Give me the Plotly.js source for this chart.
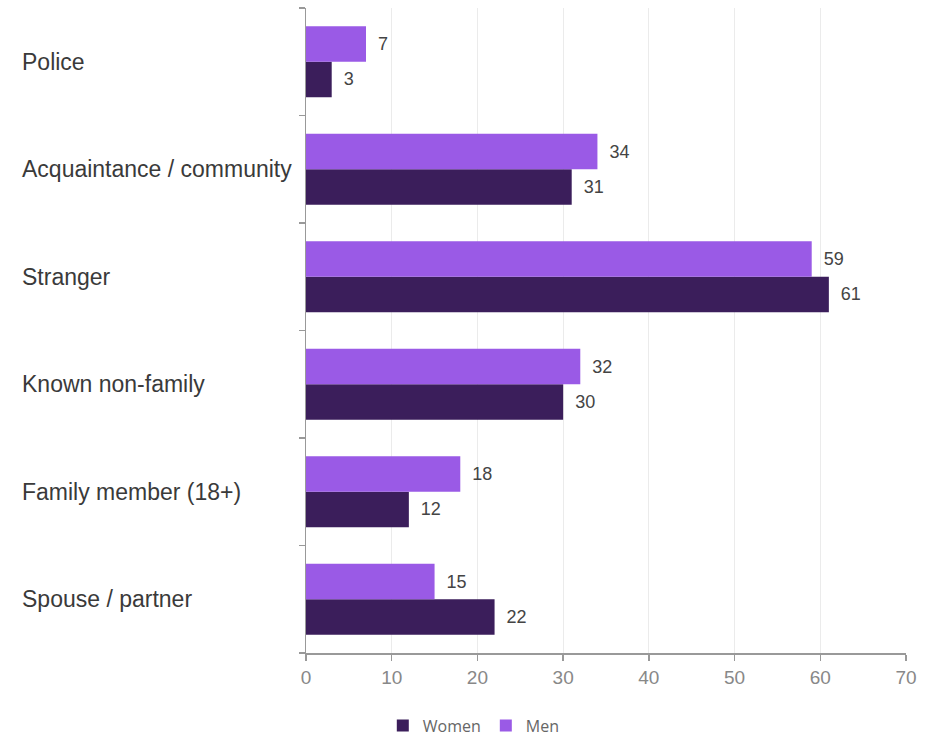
<!DOCTYPE html>
<html>
<head>
<meta charset="utf-8">
<script src="https://cdn.plot.ly/plotly-3.0.1.min.js"></script>
<style>html,body{margin:0;padding:0;background:#fff;}#chart{width:936px;height:736px;}</style>
</head>
<body>
<div id="chart"></div>
<script>
// categories listed top to bottom as displayed
const categories = ["Police", "Acquaintance / community", "Stranger", "Known non-family", "Family member (18+)", "Spouse / partner"];
const women = [3, 31, 61, 30, 12, 22];
const men = [7, 34, 59, 32, 18, 15];
const xTicks = [0, 10, 20, 30, 40, 50, 60, 70];

const labelFont = {family: "Liberation Sans, Arial, sans-serif", size: 18, color: "#444"};
const pad = "\u2002";

const traces = [
  {type: "bar", orientation: "h", name: "Women", y: categories, x: women,
   marker: {color: "#3b1e5b"}, text: women.map(v => pad + v), textposition: "outside",
   textfont: labelFont, cliponaxis: false, hoverinfo: "x+y"},
  {type: "bar", orientation: "h", name: "Men", y: categories, x: men,
   marker: {color: "#9a5ae6"}, text: men.map(v => pad + v), textposition: "outside",
   textfont: labelFont, cliponaxis: false, hoverinfo: "x+y"}
];

const annotations = categories.map(c => ({
  xref: "paper", yref: "y", x: -0.4775, y: c, text: c, showarrow: false,
  xanchor: "left", yanchor: "middle",
  font: {family: "Liberation Sans, Arial, sans-serif", size: 23, color: "#3a3a3a"}
}));

const layout = {
  width: 936, height: 736,
  margin: {l: 306, r: 30, t: 8, b: 83},
  paper_bgcolor: "#fff", plot_bgcolor: "#fff",
  barmode: "group", bargap: 0.34, bargroupgap: 0,
  showlegend: true,
  legend: {orientation: "h", x: 0.128, xanchor: "left", yref: "container", y: 0.014, yanchor: "middle",
           font: {family: "Open Sans, sans-serif", size: 16, color: "#666"}, traceorder: "normal",
           itemwidth: 30},
  xaxis: {range: [0, 70], tickvals: xTicks, ticktext: xTicks.map(String),
          showgrid: true, gridcolor: "#ebebeb", gridwidth: 1,
          showline: true, linecolor: "#999", linewidth: 2,
          ticks: "outside", ticklen: 6, tickcolor: "#999", tickwidth: 1.5,
          tickfont: {family: "Liberation Sans, Arial, sans-serif", size: 19, color: "#888"},
          zeroline: false, fixedrange: true},
  yaxis: {type: "category", categoryorder: "array", categoryarray: categories.slice().reverse(),
          showticklabels: false, showgrid: false, zeroline: false,
          showline: true, linecolor: "#999", linewidth: 1.5,
          ticks: "outside", tickson: "boundaries", ticklen: 6, tickcolor: "#999", tickwidth: 1.5,
          fixedrange: true},
  annotations: annotations
};

Plotly.newPlot("chart", traces, layout, {displayModeBar: false, staticPlot: true});
</script>
</body>
</html>
